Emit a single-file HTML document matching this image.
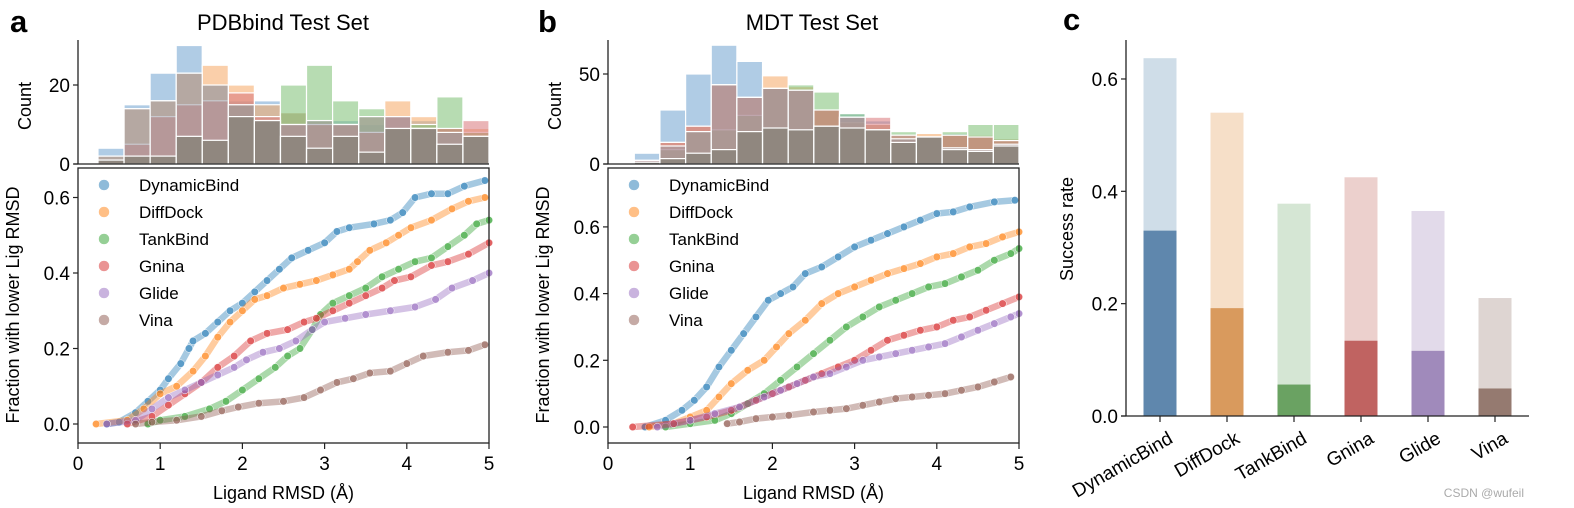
<!DOCTYPE html>
<html><head><meta charset="utf-8"><style>
body{margin:0;background:#fff;}
svg{display:block;font-family:"Liberation Sans",Arial,sans-serif;}
</style></head><body>
<svg id="fig" width="1574" height="508" viewBox="0 0 1574 508" xmlns="http://www.w3.org/2000/svg">
<rect width="1574" height="508" fill="#fff"/>
<text x="10" y="32" font-size="31" font-weight="bold">a</text>
<text x="283" y="30" font-size="22" text-anchor="middle">PDBbind Test Set</text>
<text x="538" y="32" font-size="31" font-weight="bold">b</text>
<text x="812" y="30" font-size="22" text-anchor="middle">MDT Test Set</text>
<text x="1063" y="30" font-size="31" font-weight="bold">c</text>
<text x="1524" y="497" font-size="12" fill="#aaa" text-anchor="end">CSDN @wufeil</text>
</svg>
<script>
const NS="http://www.w3.org/2000/svg";
const svg=document.getElementById('fig');
function mk(tag,attrs,parent){const e=document.createElementNS(NS,tag);for(const k in attrs)e.setAttribute(k,attrs[k]);(parent||svg).appendChild(e);return e;}
function txt(s,attrs,parent){const e=mk('text',attrs,parent);e.textContent=s;return e;}

const seriesNames=["DynamicBind","DiffDock","TankBind","Gnina","Glide","Vina"];
const colors=["#1f77b4","#ff7f0e","#2ca02c","#d62728","#9467bd","#8c564b"];
const histColors=["#6fa3cf","#f5a865","#7bbf72","#d9777a","#9a9aa6","#7a7a6e"];

// ---- Histogram data (counts per bin) ----
const histA_DynamicBind=[4,15,23,30,20,16,16,13,11,11,10,12,11,9,7];
const histA_DiffDock=[2,14,16,23,25,20,15,13,11,10,12,16,12,9,9];
const histA_TankBind=[1,2,2,7,6,15,11,20,25,16,14,9,10,17,8];
const histA_Gnina=[1,5,12,15,16,18,12,10,10,10,8,12,9,9,11];
const histA_Glide=[2,14,16,23,20,15,11,10,11,10,12,12,9,8,7];
const histA_Vina=[1,2,2,7,6,12,11,7,4,7,3,9,9,5,7];
const histB_DynamicBind=[6,30,50,66,57,42,42,30,28,24,16,15,17,16,14];
const histB_DiffDock=[2,12,21,44,37,49,43,30,23,22,15,17,16,16,14];
const histB_TankBind=[1,8,18,19,27,42,44,40,28,19,18,15,18,22,22];
const histB_Gnina=[2,12,21,44,37,42,41,30,26,26,16,15,16,15,13];
const histB_Glide=[2,10,18,44,37,42,41,21,26,19,14,15,9,8,11];
const histB_Vina=[1,3,6,8,18,20,19,21,20,19,12,15,8,7,10];
const histA=[histA_DynamicBind,histA_DiffDock,histA_TankBind,histA_Gnina,histA_Glide,histA_Vina];
const histB=[histB_DynamicBind,histB_DiffDock,histB_TankBind,histB_Gnina,histB_Glide,histB_Vina];
const histATicks=[0,20];
const histBTicks=[0,50];

// ---- CDF scatter data ----
const cdfA_DynamicBind_x=[0.35,0.5,0.7,0.85,1.0,1.1,1.25,1.35,1.4,1.55,1.7,1.85,2.0,2.15,2.3,2.45,2.6,2.8,3.0,3.15,3.3,3.6,3.8,3.95,4.1,4.3,4.5,4.7,4.95];
const cdfA_DynamicBind_y=[0,0.005,0.03,0.06,0.09,0.12,0.16,0.2,0.22,0.24,0.27,0.3,0.32,0.35,0.38,0.41,0.44,0.46,0.48,0.51,0.52,0.53,0.54,0.56,0.6,0.61,0.61,0.63,0.645];
const cdfA_DiffDock_x=[0.22,0.6,0.8,1.0,1.2,1.4,1.55,1.7,1.85,2.0,2.15,2.3,2.5,2.7,2.9,3.1,3.3,3.4,3.55,3.75,3.9,4.05,4.3,4.55,4.75,4.95];
const cdfA_DiffDock_y=[0,0.01,0.04,0.08,0.1,0.14,0.18,0.23,0.27,0.3,0.33,0.34,0.36,0.37,0.38,0.395,0.41,0.43,0.46,0.48,0.5,0.52,0.54,0.57,0.59,0.6];
const cdfA_TankBind_x=[0.85,1.0,1.3,1.6,1.8,2.0,2.2,2.4,2.55,2.7,2.85,2.95,3.1,3.3,3.5,3.7,3.9,4.1,4.3,4.5,4.7,4.85,5.0];
const cdfA_TankBind_y=[0,0.01,0.02,0.04,0.06,0.09,0.12,0.15,0.18,0.2,0.25,0.29,0.32,0.34,0.36,0.39,0.41,0.43,0.44,0.47,0.5,0.53,0.54];
const cdfA_Gnina_x=[0.6,0.9,1.1,1.3,1.5,1.7,1.9,2.1,2.3,2.55,2.75,2.9,3.1,3.3,3.5,3.7,3.85,4.05,4.3,4.5,4.75,5.0];
const cdfA_Gnina_y=[0,0.02,0.05,0.08,0.11,0.15,0.18,0.22,0.24,0.25,0.27,0.28,0.3,0.32,0.34,0.36,0.38,0.39,0.42,0.43,0.45,0.48];
const cdfA_Glide_x=[0.35,0.7,0.9,1.1,1.3,1.5,1.7,1.9,2.05,2.25,2.45,2.65,2.85,3.0,3.25,3.5,3.8,4.1,4.35,4.55,4.8,5.0];
const cdfA_Glide_y=[0,0.01,0.04,0.07,0.09,0.11,0.13,0.15,0.17,0.19,0.2,0.22,0.25,0.27,0.28,0.29,0.3,0.31,0.33,0.36,0.38,0.4];
const cdfA_Vina_x=[0.7,0.9,1.2,1.5,1.75,1.95,2.2,2.5,2.75,2.95,3.15,3.35,3.55,3.8,4.0,4.2,4.5,4.75,4.95];
const cdfA_Vina_y=[0,0.005,0.01,0.02,0.035,0.045,0.055,0.06,0.07,0.09,0.11,0.12,0.135,0.14,0.16,0.18,0.19,0.195,0.21];

const cdfB_DynamicBind_x=[0.45,0.7,0.9,1.05,1.2,1.35,1.5,1.65,1.8,1.95,2.1,2.25,2.4,2.6,2.8,3.0,3.2,3.4,3.6,3.8,4.0,4.2,4.4,4.7,4.95];
const cdfB_DynamicBind_y=[0,0.02,0.05,0.08,0.12,0.18,0.23,0.28,0.33,0.38,0.4,0.42,0.46,0.48,0.51,0.54,0.56,0.58,0.6,0.62,0.64,0.645,0.66,0.675,0.68];
const cdfB_DiffDock_x=[0.5,0.8,1.0,1.2,1.35,1.5,1.7,1.9,2.05,2.2,2.4,2.6,2.8,3.0,3.2,3.4,3.6,3.8,4.0,4.2,4.4,4.6,4.8,5.0];
const cdfB_DiffDock_y=[0,0.01,0.03,0.05,0.09,0.13,0.17,0.2,0.24,0.28,0.32,0.37,0.4,0.42,0.44,0.46,0.475,0.49,0.51,0.52,0.54,0.55,0.57,0.585];
const cdfB_TankBind_x=[0.7,1.0,1.3,1.5,1.7,1.9,2.1,2.3,2.5,2.7,2.9,3.1,3.3,3.5,3.7,3.9,4.1,4.3,4.5,4.7,4.9,5.0];
const cdfB_TankBind_y=[0,0.01,0.02,0.04,0.07,0.1,0.14,0.18,0.22,0.26,0.3,0.33,0.36,0.38,0.4,0.42,0.43,0.45,0.47,0.5,0.52,0.535];
const cdfB_Gnina_x=[0.3,0.8,1.2,1.5,1.8,2.0,2.2,2.4,2.6,2.8,3.0,3.2,3.4,3.6,3.8,4.0,4.2,4.4,4.6,4.8,5.0];
const cdfB_Gnina_y=[0,0.01,0.03,0.05,0.08,0.1,0.12,0.14,0.16,0.18,0.2,0.23,0.26,0.275,0.29,0.3,0.32,0.33,0.35,0.37,0.39];
const cdfB_Glide_x=[0.6,1.0,1.3,1.6,1.9,2.1,2.3,2.5,2.7,2.9,3.1,3.3,3.5,3.7,3.9,4.1,4.3,4.5,4.7,4.9,5.0];
const cdfB_Glide_y=[0,0.02,0.04,0.06,0.09,0.11,0.13,0.15,0.16,0.18,0.2,0.21,0.22,0.23,0.24,0.25,0.27,0.29,0.31,0.33,0.34];
const cdfB_Vina_x=[1.45,1.6,1.8,2.0,2.2,2.5,2.7,2.9,3.1,3.3,3.5,3.7,3.9,4.1,4.3,4.5,4.7,4.9];
const cdfB_Vina_y=[0.01,0.015,0.025,0.03,0.035,0.045,0.05,0.055,0.065,0.075,0.085,0.09,0.095,0.1,0.11,0.12,0.135,0.15];

const cdfA=[[cdfA_DynamicBind_x,cdfA_DynamicBind_y],[cdfA_DiffDock_x,cdfA_DiffDock_y],[cdfA_TankBind_x,cdfA_TankBind_y],[cdfA_Gnina_x,cdfA_Gnina_y],[cdfA_Glide_x,cdfA_Glide_y],[cdfA_Vina_x,cdfA_Vina_y]];
const cdfB=[[cdfB_DynamicBind_x,cdfB_DynamicBind_y],[cdfB_DiffDock_x,cdfB_DiffDock_y],[cdfB_TankBind_x,cdfB_TankBind_y],[cdfB_Gnina_x,cdfB_Gnina_y],[cdfB_Glide_x,cdfB_Glide_y],[cdfB_Vina_x,cdfB_Vina_y]];
const xTicks=[0,1,2,3,4,5];
const yTicks=[0.0,0.2,0.4,0.6];
const yTickLabels=["0.0","0.2","0.4","0.6"];

// ---- Panel c ----
const barCategories=["DynamicBind","DiffDock","TankBind","Gnina","Glide","Vina"];
const barTotal=[0.637,0.54,0.378,0.425,0.365,0.21];
const barStrict=[0.33,0.192,0.056,0.134,0.116,0.049];
const barYTicks=[0.0,0.2,0.4,0.6];
const darkColors=["#5f87ad","#d99a5d","#6aa262","#c06361","#a08abb","#957a70"];
const lightColors=["#cfdde8","#f6dfc8","#d5e6d4","#ecd0cd","#e2daea","#ded5d2"];

function drawPanel(cfg){
  const g=mk('g',{});
  
  
  const sx=v=>cfg.x0+(v-0)/5*(cfg.x1-cfg.x0);
  const hy=c=>cfg.h0-c*cfg.hScale;
  const bw=(5-cfg.binStart)/15;
  cfg.hist.forEach((arr,si)=>{
    arr.forEach((c,i)=>{
      const xa=sx(cfg.binStart+i*bw), xb=sx(cfg.binStart+(i+1)*bw);
      const r=mk('rect',{x:xa,y:hy(c),width:xb-xa,height:cfg.h0-hy(c),fill:histColors[si],'fill-opacity':0.55,stroke:'#fff','stroke-width':1.2},g);
      
      
    });
  });
  mk('line',{x1:cfg.x0,y1:40,x2:cfg.x0,y2:cfg.h0,stroke:'#222','stroke-width':1.3},g);
  mk('line',{x1:cfg.x0-4,y1:cfg.h0,x2:cfg.x1,y2:cfg.h0,stroke:'#222','stroke-width':1.3},g);
  cfg.hTicks.forEach(t=>{
    mk('line',{x1:cfg.x0-5,y1:hy(t),x2:cfg.x0,y2:hy(t),stroke:'#222','stroke-width':1.2},g);
    const tl=txt(String(t),{x:cfg.x0-8,y:hy(t)+7,'font-size':19,'text-anchor':'end'},g);
    
    
  });
  const hl=txt('Count',{x:0,y:0,'font-size':18,'text-anchor':'middle',transform:`translate(${cfg.x0-47},${(40+cfg.h0)/2+4}) rotate(-90)`},g);
  
  
  const sy=v=>cfg.y0-v*cfg.yScale;
  cfg.cdf.forEach((s,si)=>{
    const pts=s[0].map((x,i)=>sx(x)+','+sy(s[1][i])).join(' ');
    const pl=mk('polyline',{points:pts,fill:'none',stroke:colors[si],'stroke-opacity':0.4,'stroke-width':6.5,'stroke-linecap':'round','stroke-linejoin':'round'},g);
    
    
    s[0].forEach((x,i)=>{
      const c=mk('circle',{cx:sx(x),cy:sy(s[1][i]),r:3.8,fill:colors[si],'fill-opacity':0.55,stroke:'#fff','stroke-width':0.5},g);
      
      
    });
  });
  mk('rect',{x:cfg.x0,y:168,width:cfg.x1-cfg.x0,height:443-168,fill:'none',stroke:'#222','stroke-width':1.3},g);
  xTicks.forEach(t=>{
    mk('line',{x1:sx(t),y1:443,x2:sx(t),y2:449,stroke:'#222','stroke-width':1.2},g);
    const tl=txt(String(t),{x:sx(t),y:470,'font-size':19,'text-anchor':'middle'},g);
    
    
  });
  yTicks.forEach((t,i)=>{
    mk('line',{x1:cfg.x0-5,y1:sy(t),x2:cfg.x0,y2:sy(t),stroke:'#222','stroke-width':1.2},g);
    const tl=txt(yTickLabels[i],{x:cfg.x0-8,y:sy(t)+7,'font-size':19,'text-anchor':'end'},g);
    
    
  });
  const xl=txt('Ligand RMSD (Å)',{x:(cfg.x0+cfg.x1)/2,y:499,'font-size':18,'text-anchor':'middle'},g);
  
  
  const yl=txt('Fraction with lower Lig RMSD',{x:0,y:0,'font-size':18,'text-anchor':'middle',transform:`translate(${cfg.x0-59},305) rotate(-90)`},g);
  
  
  seriesNames.forEach((n,i)=>{
    const ly=185+i*27;
    const m=mk('circle',{cx:cfg.x0+26,cy:ly,r:5.5,fill:colors[i],'fill-opacity':0.5,stroke:'#fff','stroke-width':0.5},g);
    
    
    const t=txt(n,{x:cfg.x0+61,y:ly+6,'font-size':17},g);
    
    
  });
}
drawPanel({name:'panel-a',x0:78,x1:489,binStart:0.243,hist:histA,h0:164,hScale:3.95,hTicks:histATicks,cdf:cdfA,y0:424,yScale:377.5});
drawPanel({name:'panel-b',x0:608,x1:1019,binStart:0.32,hist:histB,h0:164,hScale:1.8,hTicks:histBTicks,cdf:cdfB,y0:427,yScale:333.5});

(function(){
  const g=mk('g',{});
  
  
  const x0=1126,x1=1529,y0=416,scale=561.7;
  const cx=i=>1160+i*67;
  const sy=v=>y0-v*scale;
  barCategories.forEach((c,i)=>{
    const b1=mk('rect',{x:cx(i)-16.5,y:sy(barTotal[i]),width:33,height:y0-sy(barTotal[i]),fill:lightColors[i]},g);
    
    
    const b2=mk('rect',{x:cx(i)-16.5,y:sy(barStrict[i]),width:33,height:y0-sy(barStrict[i]),fill:darkColors[i]},g);
    
    
    mk('line',{x1:cx(i),y1:y0,x2:cx(i),y2:y0+6,stroke:'#222','stroke-width':1.2},g);
    const t=txt(c,{x:0,y:0,'font-size':19,'text-anchor':'end',transform:`translate(${cx(i)+14},${y0+26}) rotate(-30)`},g);
    
    
  });
  mk('line',{x1:x0,y1:40,x2:x0,y2:y0,stroke:'#222','stroke-width':1.3},g);
  mk('line',{x1:x0-5,y1:y0,x2:x1,y2:y0,stroke:'#222','stroke-width':1.3},g);
  barYTicks.forEach(t=>{
    mk('line',{x1:x0-5,y1:sy(t),x2:x0,y2:sy(t),stroke:'#222','stroke-width':1.2},g);
    const tl=txt(t.toFixed(1),{x:x0-8,y:sy(t)+7,'font-size':19,'text-anchor':'end'},g);
    
    
  });
  const yl=txt('Success rate',{x:0,y:0,'font-size':18,'text-anchor':'middle',transform:`translate(1073,229) rotate(-90)`},g);
  
  
})();
</script>
</body></html>
